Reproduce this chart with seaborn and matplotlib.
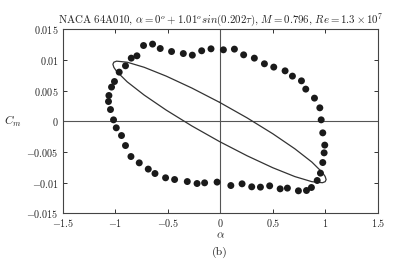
import matplotlib
matplotlib.use("Agg")
import matplotlib.pyplot as plt
import seaborn as sns
import pandas as pd

# Measured points (alpha in degrees, Cm)
alpha_pts = [-1.066, -1.062, -1.037, -1.009, -0.964, -0.904, -0.849, -0.795, -0.732, -0.646,
             -0.573, -0.465, -0.353, -0.267, -0.178, -0.089, 0.029, 0.134, 0.222, 0.324,
             0.420, 0.509, 0.617, 0.687, 0.773, 0.814, 0.897, 0.948, 0.961, 0.976,
             0.995, 0.989, 0.976, 0.954, 0.923, 0.868, 0.821, 0.744, 0.639, 0.570,
             0.470, 0.382, 0.299, 0.207, 0.100, -0.031, -0.150, -0.222, -0.315, -0.436,
             -0.522, -0.623, -0.687, -0.773, -0.852, -0.904, -0.942, -0.992, -1.018, -1.047]
cm_pts = [0.00323, 0.00421, 0.00558, 0.00649, 0.00802, 0.00905, 0.01030, 0.01068, 0.01236, 0.01259,
          0.01187, 0.01138, 0.01105, 0.01079, 0.01150, 0.01182, 0.01166, 0.01177, 0.01084, 0.01030,
          0.00938, 0.00884, 0.00823, 0.00737, 0.00660, 0.00525, 0.00378, 0.00220, 0.00024, -0.00188,
          -0.00388, -0.00514, -0.00672, -0.00845, -0.00965, -0.01079, -0.01128, -0.01133, -0.01089, -0.01101,
          -0.01052, -0.01073, -0.01068, -0.01019, -0.01047, -0.00991, -0.01003, -0.01014, -0.00982, -0.00949,
          -0.00921, -0.00851, -0.00779, -0.00677, -0.00574, -0.00395, -0.00232, -0.00106, 0.00024, 0.00192]

# Computed loop (thin line)
alpha_loop = [-0.008, 0.255, 0.500, 0.710, 0.872, 0.973, 0.999, 1.008, 0.999, 0.973,
              0.872, 0.710, 0.500, 0.255, -0.008, -0.271, -0.516, -0.726, -0.888, -0.989,
              -1.015, -1.024, -1.015, -0.989, -0.888, -0.726, -0.516, -0.271, -0.008]
cm_loop = [0.00310, 0.00056, -0.00203, -0.00448, -0.00664, -0.00835, -0.00900, -0.00950, -0.00984, -0.01001,
           -0.00984, -0.00901, -0.00757, -0.00562, -0.00330, -0.00076, 0.00183, 0.00428, 0.00644, 0.00815,
           0.00880, 0.00930, 0.00964, 0.00981, 0.00964, 0.00881, 0.00737, 0.00542, 0.00310]

x_ticks = [-1.5, -1.0, -0.5, 0.0, 0.5, 1.0, 1.5]
x_tick_labels = ["$-1.5$", "$-1$", "$-0.5$", "$0$", "$0.5$", "$1$", "$1.5$"]
y_ticks = [-0.015, -0.01, -0.005, 0.0, 0.005, 0.01, 0.015]
y_tick_labels = ["$-0.015$", "$-0.01$", "$-0.005$", "$0$", "$0.005$", "$0.01$", "$0.015$"]

title_text = r"NACA 64A010, $\alpha = 0^o + 1.01^o sin(0.202\tau)$, $M = 0.796$, $Re = 1.3 \times 10^7$"

sns.set_style("white")
plt.rcParams["mathtext.fontset"] = "cm"
plt.rcParams["font.family"] = ["cmr10", "DejaVu Serif"]
plt.rcParams["axes.formatter.use_mathtext"] = True

fig = plt.figure(figsize=(4.01, 2.69), dpi=100)
ax = fig.add_axes([0.157, 0.207, 0.785, 0.684])

ax.axhline(0, color="#555555", lw=0.8, zorder=1)
ax.axvline(0, color="#555555", lw=0.8, zorder=1)

loop_df = pd.DataFrame({"alpha": alpha_loop, "cm": cm_loop})
sns.lineplot(data=loop_df, x="alpha", y="cm", sort=False, estimator=None,
             color="#333333", lw=0.9, ax=ax, zorder=2)

pts_df = pd.DataFrame({"alpha": alpha_pts, "cm": cm_pts})
sns.scatterplot(data=pts_df, x="alpha", y="cm", s=25, color="#1a1a1a",
                edgecolor="none", ax=ax, zorder=3)

ax.set_xlim(-1.5, 1.5)
ax.set_ylim(-0.015, 0.015)
ax.set_xticks(x_ticks)
ax.set_xticklabels(x_tick_labels, fontsize=7.3)
ax.set_yticks(y_ticks)
ax.set_yticklabels(y_tick_labels, fontsize=7.3)
ax.tick_params(direction="in", length=3, width=0.7, top=True, right=True,
               bottom=True, left=True, colors="#333333", labelcolor="#222222", pad=3)
for sp in ax.spines.values():
    sp.set_color("#444444")
    sp.set_linewidth(0.8)

ax.set_xlabel(r"$\alpha$", fontsize=8.5, labelpad=1)
ax.set_ylabel(r"$C_m$", fontsize=8.5, rotation=0, labelpad=10, va="center")
ax.set_title(title_text, fontsize=7.8, pad=5, color="#222222")
fig.text(0.548, 0.062, "(b)", ha="center", va="center", fontsize=8.5, color="#222222")

fig.savefig("out.png", dpi=100, facecolor="white")
